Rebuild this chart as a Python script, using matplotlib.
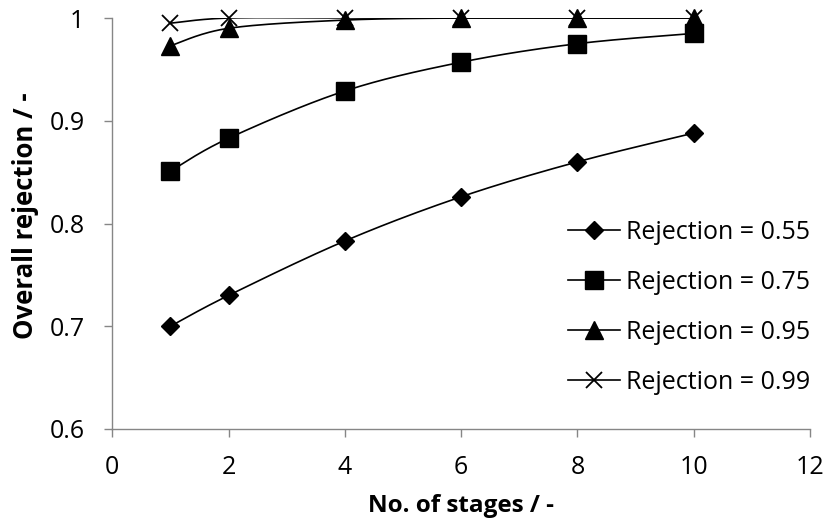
import numpy as np
import matplotlib
matplotlib.use("Agg")
import matplotlib.pyplot as plt
from matplotlib.ticker import FuncFormatter

plt.rcParams['font.family'] = ['Open Sans', 'DejaVu Sans']

stages = [1, 2, 4, 6, 8, 10]
rej_055 = [0.700, 0.730, 0.783, 0.826, 0.860, 0.888]
rej_075 = [0.851, 0.883, 0.929, 0.957, 0.975, 0.985]
rej_095 = [0.973, 0.990, 0.998, 1.000, 1.000, 1.000]
rej_099 = [0.995, 1.000, 1.000, 1.000, 1.000, 1.000]

series_labels = ["Rejection = 0.55", "Rejection = 0.75",
                 "Rejection = 0.95", "Rejection = 0.99"]


def smooth_curve(x, y, n=30):
    """Bezier smoothing through points (Catmull-Rom style, tension 1/6)."""
    x = np.asarray(x, float)
    y = np.asarray(y, float)
    pts = np.column_stack([x, y])
    out = []
    for i in range(len(pts) - 1):
        p0 = pts[i - 1] if i > 0 else pts[i]
        p1 = pts[i]
        p2 = pts[i + 1]
        p3 = pts[i + 2] if i + 2 < len(pts) else pts[i + 1]
        c1 = p1 + (p2 - p0) / 6.0
        c2 = p2 - (p3 - p1) / 6.0
        t = np.linspace(0, 1, n)[:, None]
        seg = ((1 - t) ** 3) * p1 + 3 * ((1 - t) ** 2) * t * c1 \
            + 3 * (1 - t) * t ** 2 * c2 + t ** 3 * p2
        out.append(seg if i == 0 else seg[1:])
    seg = np.vstack(out)
    return seg[:, 0], seg[:, 1]


fig = plt.figure(figsize=(8.27, 5.27), dpi=100)
ax = fig.add_axes([0.1358, 0.186, 0.8436, 0.7798])

styles = [
    dict(marker='D', markersize=9.5),
    dict(marker='s', markersize=12.5),
    dict(marker='^', markersize=12.5),
    dict(marker='x', markersize=12, markeredgewidth=1.3),
]

all_series = [rej_055, rej_075, rej_095, rej_099]
handles = []
for vals, st, lab in zip(all_series, styles, series_labels):
    sx, sy = smooth_curve(stages, vals)
    ax.plot(sx, sy, color='black', linewidth=1.2, zorder=2)
    ax.plot(stages, vals, linestyle='none', color='black', zorder=3,
            clip_on=False, **st)
    h, = ax.plot([], [], color='black', linewidth=1.2, **st)
    handles.append(h)

ax.set_xlim(0, 12)
ax.set_ylim(0.6, 1.0)
ax.set_xticks([0, 2, 4, 6, 8, 10, 12])
ax.set_yticks([0.6, 0.7, 0.8, 0.9, 1.0])
ax.yaxis.set_major_formatter(FuncFormatter(lambda v, p: f"{v:g}"))

for side in ('top', 'right'):
    ax.spines[side].set_visible(False)
for side in ('left', 'bottom'):
    ax.spines[side].set_color('#868686')
    ax.spines[side].set_linewidth(1.0)
ax.tick_params(axis='both', direction='out', length=6, width=1.0,
               color='#868686', labelsize=18)
ax.tick_params(axis='x', pad=13)
ax.tick_params(axis='y', pad=14)

ax.set_xlabel("No. of stages / -", fontsize=17.5, fontweight='bold')
ax.set_ylabel("Overall rejection / -", fontsize=18.5, fontweight='bold')
ax.xaxis.set_label_coords(0.5, -0.158)
ax.yaxis.set_label_coords(-0.105, 0.52)

fig.legend(handles, series_labels, loc='upper left',
           bbox_to_anchor=(0.6868, 0.583), frameon=False, fontsize=18,
           borderpad=0, borderaxespad=0,
           handlelength=2.08, handletextpad=0.25, labelspacing=1.0)

fig.savefig("out.png", dpi=100)
